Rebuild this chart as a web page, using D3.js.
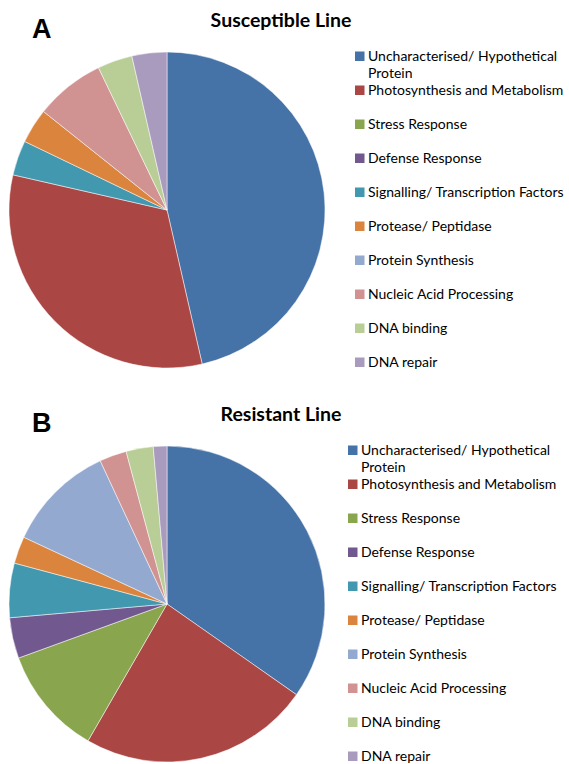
<!DOCTYPE html>
<html>
<head>
<meta charset="utf-8">
<script src="https://cdn.jsdelivr.net/npm/d3@7"></script>
<style>
  html, body { margin: 0; padding: 0; background: #fff; }
  svg { display: block; }
</style>
</head>
<body>
<div id="chart"></div>
<script>
// gene categories, in legend / pie order
const categories = [
  'Uncharacterised/ Hypothetical\nProtein',
  'Photosynthesis and Metabolism',
  'Stress Response',
  'Defense Response',
  'Signalling/ Transcription Factors',
  'Protease/ Peptidase',
  'Protein Synthesis',
  'Nucleic Acid Processing',
  'DNA binding',
  'DNA repair'
]

// counts
const susceptibleCounts = [13, 9, 0, 0, 1, 1, 0, 2, 1, 1]
const resistantCounts = [25, 17, 8, 3, 4, 2, 8, 2, 2, 1]

const panelLetters = ['A', 'B']
const panelTitles = ['Susceptible Line', 'Resistant Line']

const palette = ['#4572a7', '#aa4643', '#89a54e', '#71588f', '#4198af',
                 '#db843d', '#93a9cf', '#d19392', '#b9cd96', '#a99bbd']

const width = 569
const height = 764

const svg = d3.select('#chart')
  .append('svg')
  .attr('width', width)
  .attr('height', height)

const color = d3.scaleOrdinal()
  .domain(categories)
  .range(palette)

const pie = d3.pie()
  .sort(null)
  .value(d => d.value)

const radius = 158
const arc = d3.arc().innerRadius(0).outerRadius(radius)

const panels = [
  { counts: susceptibleCounts, top: 0, legendX: 355 },
  { counts: resistantCounts, top: 394, legendX: 348 }
]

panels.forEach((p, i) => {
  let g = svg.append('g').attr('transform', `translate(0,${p.top})`)

  g.append('text')
    .attr('x', 32)
    .attr('y', 38)
    .style('font-family', '"Liberation Sans", Arial, sans-serif')
    .style('font-weight', 'bold')
    .style('font-size', '27px')
    .text(panelLetters[i])

  g.append('text')
    .attr('x', 281)
    .attr('y', 27)
    .attr('text-anchor', 'middle')
    .style('font-family', 'Lato, sans-serif')
    .style('font-weight', 'bold')
    .style('font-size', '19.5px')
    .text(panelTitles[i])

  let data = categories.map((c, k) => ({ name: c, value: p.counts[k] }))

  let pieG = g.append('g').attr('transform', 'translate(167,210)')
  pieG.selectAll('path')
    .data(pie(data).filter(d => d.data.value > 0))
    .enter().append('path')
      .attr('d', arc)
      .attr('fill', d => color(d.data.name))
      .attr('stroke', '#fff')
      .attr('stroke-width', 0.5)

  let legend = g.append('g')
    .attr('transform', `translate(${p.legendX},56)`)

  let item = legend.selectAll('g')
    .data(categories)
    .enter().append('g')
      .attr('transform', (d, k) => `translate(0,${k * 34})`)

  item.append('rect')
    .attr('x', 0)
    .attr('y', -4.5)
    .attr('width', 9.5)
    .attr('height', 9.5)
    .attr('fill', d => color(d))

  item.append('text')
    .attr('x', 13)
    .attr('y', 5)
    .style('font-family', 'Lato, sans-serif')
    .style('font-size', '14px')
    .style('fill', '#000')
    .each(function (d) {
      let t = d3.select(this)
      d.split('\n').forEach((line, n) => {
        t.append('tspan')
          .attr('x', 13)
          .attr('dy', n ? 17 : 0)
          .text(line)
      })
    })
})
</script>
</body>
</html>
